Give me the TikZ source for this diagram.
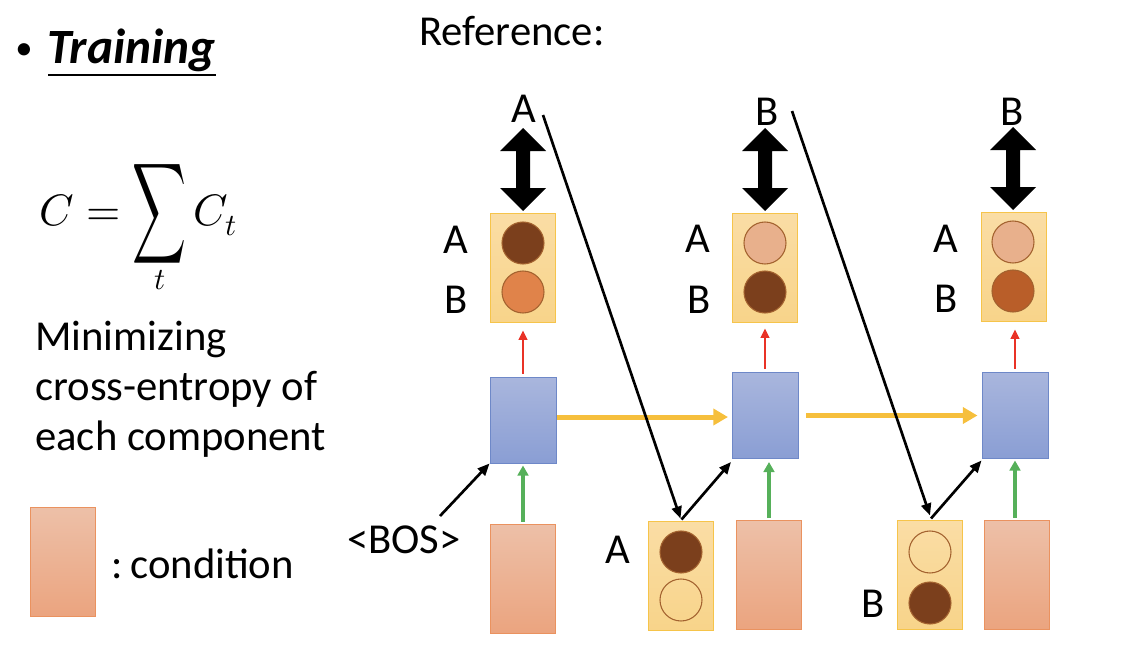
\documentclass[tikz,border=0pt]{standalone}
\usepackage{fontspec}
\usepackage{unicode-math}
\setmainfont{Carlito}
\setmathfont{Latin Modern Math}
\usepackage{graphicx}
\usetikzlibrary{arrows.meta,calc}
\definecolor{outT}{HTML}{FADDA5}
\definecolor{outBot}{HTML}{F8D48A}
\definecolor{outB}{HTML}{F6C44A}
\definecolor{hidT}{HTML}{A9B6DD}
\definecolor{hidBot}{HTML}{8A9ED4}
\definecolor{hidB}{HTML}{6E88C8}
\definecolor{conT}{HTML}{EDC0A8}
\definecolor{conBot}{HTML}{EBA47F}
\definecolor{conB}{HTML}{EA925F}
\definecolor{dotB}{HTML}{A3622F}
\definecolor{cDark}{HTML}{7B3F1C}
\definecolor{cOrange}{HTML}{E0834A}
\definecolor{cSalmon}{HTML}{E8B08C}
\definecolor{cMed}{HTML}{B95E29}
\definecolor{aRed}{HTML}{E93226}
\definecolor{aGreen}{HTML}{56B05A}
\definecolor{aYellow}{HTML}{F6BF3C}
\newcommand\dblarr[3]{%
  \fill (#1,#2) -- ++(23,23) -- ++(-16,0) -- (#1+7,#3-23) -- ++(16,0) -- (#1,#3)
    -- ++(-23,-23) -- ++(16,0) -- (#1-7,#2+23) -- ++(-16,0) -- cycle;}
\begin{document}
\begin{tikzpicture}[x=0.75pt,y=-0.75pt,
  outbox/.style={draw=outB, top color=outT, bottom color=outBot, line width=0.75pt,
    minimum width=65*0.75pt, minimum height=109*0.75pt, inner sep=0pt},
  hidbox/.style={draw=hidB, top color=hidT, bottom color=hidBot, line width=0.75pt,
    minimum width=66*0.75pt, minimum height=86*0.75pt, inner sep=0pt},
  conbox/.style={draw=conB, top color=conT, bottom color=conBot, line width=0.75pt,
    minimum width=65*0.75pt, minimum height=109*0.75pt, inner sep=0pt},
  dot/.style={circle, draw=dotB, line width=0.8pt, minimum size=42*0.75pt, inner sep=0pt},
  lbl/.style={font=\fontsize{32}{38}\selectfont, inner sep=0pt, anchor=base},
  txt/.style={font=\fontsize{32}{38}\selectfont, inner sep=0pt, anchor=base west},
  blk/.style={-{Triangle[length=9pt,width=7.5pt]}, line width=2pt},
  redarr/.style={aRed, -{Triangle[length=7pt,width=6.5pt]}, line width=1.5pt},
  grnarr/.style={aGreen, -{Triangle[length=7.5pt,width=8pt]}, line width=2.5pt},
  yelarr/.style={aYellow, -{Triangle[length=11pt,width=12pt]}, line width=3.75pt}
]
\useasboundingbox (0,0) rectangle (1136,668);

% left column
\node[txt, font=\fontsize{26}{30}\selectfont] (bul) at (15,59) {\textbullet};
\node[txt, font=\fontsize{37}{44}\selectfont\bfseries\itshape] (tr) at (47,63) {Training};
\draw[line width=1.6pt] ($(tr.base west)+(1,12)$) -- ($(tr.base east)+(0,12)$);
\node[txt, font=\fontsize{33}{40}\selectfont] (eq) at (39,225)
  {$C = \mathop{\vcenter{\hbox{\scalebox{0.85}[1.6]{$\displaystyle\sum$}}}}\limits_{t} C_t$};
\node[txt] (m1) at (35,350) {Minimizing};
\node[txt] (m2) at (35,400) {cross-entropy of};
\node[txt] (m3) at (35,450) {each component};
\node[conbox] (leg) at (62.5,562) {};
\node[txt] (legt) at (111,578) {:\hspace{-0.12em} condition};
\node[txt] (ref) at (419,45) {Reference:};

% output boxes
\node[outbox] (o1) at (523,267.5) {};
\node[outbox] (o2) at (765,267.5) {};
\node[outbox] (o3) at (1013.5,266.5) {};
\node[dot, fill=cDark] (o1a) at (523,243) {};
\node[dot, fill=cOrange] (o1b) at (523,292) {};
\node[dot, fill=cSalmon] (o2a) at (765,243) {};
\node[dot, fill=cDark] (o2b) at (765,292) {};
\node[dot, fill=cSalmon] (o3a) at (1013,242) {};
\node[dot, fill=cMed] (o3b) at (1013,291) {};
\node[lbl] at (456,253) {A};
\node[lbl] at (456,313) {B};
\node[lbl] at (698,252) {A};
\node[lbl] at (699,313) {B};
\node[lbl] at (946,252) {A};
\node[lbl] at (946,312) {B};

% targets
\node[lbl] (t1) at (524,122) {A};
\node[lbl] (t2) at (767,125) {B};
\node[lbl] (t3) at (1012,125) {B};
\dblarr{523}{128}{211}
\dblarr{765}{128}{211}
\dblarr{1013}{127}{210}

% hidden boxes
\node[hidbox] (h1) at (523,420) {};
\node[hidbox] (h2) at (765.5,415.5) {};
\node[hidbox] (h3) at (1015,415) {};

% condition boxes
\node[conbox] (c1) at (523,578.5) {};
\node[conbox] (c2) at (769,575) {};
\node[conbox] (c3) at (1016.5,574.5) {};

% input boxes
\node[outbox] (i2) at (680.5,575.5) {};
\node[outbox] (i3) at (930,574.5) {};
\node[dot, fill=cDark] (i2a) at (681,552) {};
\node[dot] (i2b) at (681,600) {};
\node[dot] (i3a) at (930,552) {};
\node[dot, fill=cDark] (i3b) at (930,603) {};
\node[lbl] at (618,563) {A};
\node[lbl] at (873,617) {B};
\node[lbl] (bos) at (404,553) {<BOS>};

% connectors
\draw[redarr] ($(h1.north)+(0,-3)$) -- ($(h1.north |- o1.south)+(0,8)$);
\draw[redarr] ($(o2.south |- h2.north)+(0,-3)$) -- ($(o2.south)+(0,6)$);
\draw[redarr] ($(h3.north)+(0,-3)$) -- ($(h3.north |- o3.south)+(0,8)$);
\draw[grnarr] ($(h1.south |- c1.north)+(0,-2)$) -- ($(h1.south)+(0,2)$);
\draw[grnarr] ($(c2.north)+(0,-2)$) -- ($(c2.north |- h2.south)+(0,3)$);
\draw[grnarr] ($(h3.south |- c3.north)+(0,-2)$) -- ($(h3.south)+(0,2)$);
\draw[yelarr] ($(h1.east)+(0,-3)$) -- ($(h1.east -| h2.west)+(-4,-3)$);
\draw[yelarr] ($(h2.east)+(7,0)$) -- ($(h2.east -| h3.west)+(-4,0)$);
\coordinate (bt) at (440,516);
\coordinate (la1) at (543,115);
\coordinate (la2) at (792,111);
\draw[blk] (bt) -- (h1.south west);
\draw[blk] (la1) -- ($(i2.north)+(0,-2)$);
\draw[blk] (la2) -- ($(i3.north)+(0,-4)$);
\draw[blk] ($(i2.north)+(1,-1)$) -- ($(h2.south west)+(-1,3)$);
\draw[blk] ($(i3.north)+(1,-1)$) -- ($(h3.south west)+(0,2)$);
\end{tikzpicture}
\end{document}
